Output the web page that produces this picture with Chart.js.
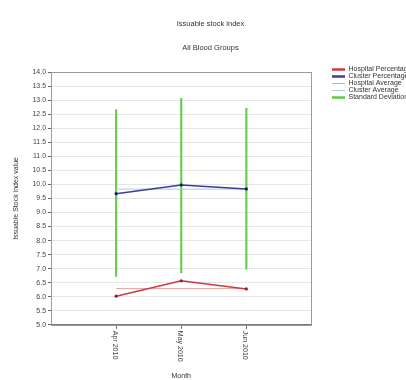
<!DOCTYPE html>
<html>
<head>
<meta charset="utf-8">
<script src="https://cdn.jsdelivr.net/npm/chart.js@4"></script>
<style>
  body { margin: 0; background: #fff; }
  #wrap { width: 406px; height: 380px; }
</style>
</head>
<body>
<div id="wrap"><canvas id="grafico" width="406" height="380"></canvas></div>
<script>
// dados
const months = ['Apr 2010', 'May 2010', 'Jun 2010'];
const hospitalPct = [6.02, 6.57, 6.28];
const clusterPct = [9.67, 9.98, 9.84];
const hospitalAvg = [6.29, 6.29, 6.29];
const clusterAvg = [9.83, 9.83, 9.83];
const stdLow = [6.72, 6.86, 6.98];
const stdHigh = [12.65, 13.06, 12.71];
const yTicks = [5, 5.5, 6, 6.5, 7, 7.5, 8, 8.5, 9, 9.5, 10, 10.5, 11, 11.5, 12, 12.5, 13, 13.5, 14];

Chart.defaults.font.family = "'Liberation Sans', Arial, sans-serif";
Chart.defaults.color = '#333';

function pts(arr){
    return arr.map((v, i) => ({x: i + 1, y: v}));
}

// caixa em volta da area do grafico + rotulos do eixo x girados
const extras = {
    id: 'extras',
    afterLayout(chart){
        const lg = chart.legend;
        lg.left = 332;
        lg.right = 440;
        lg.top = chart.chartArea.top - 6;
        lg.bottom = chart.height;
        const sub = chart.boxes.find(b => b.options && b.options.text === 'All Blood Groups');
        [chart.titleBlock, sub].forEach(b => { if (b) { b.left += 10; b.right += 10; } });
    },
    beforeDatasetsDraw(chart){
        const a = chart.chartArea;
        const ctx = chart.ctx;
        ctx.save();
        ctx.strokeStyle = '#9a9a9a';
        ctx.lineWidth = 1;
        ctx.strokeRect(Math.round(a.left) + 0.5, Math.round(a.top) + 0.5, Math.round(a.right - a.left), Math.round(a.bottom - a.top));
        ctx.restore();
    },
    afterDraw(chart){
        const sx = chart.scales.x;
        const ctx = chart.ctx;
        ctx.save();
        ctx.fillStyle = '#444';
        ctx.font = "7px 'Liberation Sans', Arial, sans-serif";
        ctx.textAlign = 'left';
        ctx.textBaseline = 'middle';
        sx.ticks.forEach(t => {
            ctx.save();
            ctx.translate(sx.getPixelForValue(t.value) - 1, sx.top + 6);
            ctx.rotate(Math.PI / 2);
            ctx.fillText(months[t.value - 1], 0, 0);
            ctx.restore();
        });
        ctx.restore();
    }
};

const ctx = document.getElementById('grafico').getContext('2d');

new Chart(ctx, {
    type: 'line',
    data: {
        datasets: [{
            label: 'Hospital Percentage',
            data: pts(hospitalPct),
            borderColor: '#cc3a42',
            backgroundColor: '#9a1c28',
            borderWidth: 1.5,
            pointRadius: 1.6,
            pointBorderWidth: 0,
            order: 1
        }, {
            label: 'Cluster Percentage',
            data: pts(clusterPct),
            borderColor: '#3c3c9c',
            backgroundColor: '#1c1c60',
            borderWidth: 1.5,
            pointRadius: 1.6,
            pointBorderWidth: 0,
            order: 1
        }, {
            label: 'Hospital Average',
            data: pts(hospitalAvg),
            borderColor: '#e2a4a8',
            borderWidth: 1,
            pointRadius: 0,
            order: 2
        }, {
            label: 'Cluster Average',
            data: pts(clusterAvg),
            borderColor: '#a8cdea',
            borderWidth: 1,
            pointRadius: 0,
            order: 2
        }, {
            type: 'bar',
            label: 'Standard Deviation',
            data: stdLow.map((v, i) => ({x: i + 1, y: [v, stdHigh[i]]})),
            backgroundColor: '#66cc4c',
            borderColor: '#5fcb45',
            borderWidth: 0,
            barThickness: 1.5,
            order: 3
        }]
    },
    options: {
        responsive: false,
        animation: false,
        layout: {
            padding: {left: 0, right: 5, top: 0, bottom: 0}
        },
        plugins: {
            title: {
                display: true,
                text: 'Issuable stock index',
                font: {size: 7.5, weight: 'normal'},
                color: '#333',
                padding: {top: 19, bottom: 0}
            },
            subtitle: {
                display: true,
                text: 'All Blood Groups',
                font: {size: 7.5, weight: 'normal'},
                color: '#333',
                padding: {top: 15, bottom: 20}
            },
            legend: {
                position: 'right',
                align: 'start',
                labels: {
                    usePointStyle: true,
                    pointStyleWidth: 13,
                    boxHeight: 6,
                    padding: 0,
                    font: {size: 7},
                    color: '#333',
                    generateLabels(chart){
                        const items = Chart.defaults.plugins.legend.labels.generateLabels(chart);
                        return items.map(it => {
                            it.pointStyle = 'line';
                            it.lineWidth = (it.datasetIndex === 2 || it.datasetIndex === 3) ? 1 : 2.5;
                            return it;
                        });
                    }
                }
            },
            tooltip: {enabled: false}
        },
        scales: {
            x: {
                type: 'linear',
                min: 0,
                max: 4,
                offset: false,
                afterBuildTicks(scale){
                    scale.ticks = months.map((m, i) => ({value: i + 1}));
                },
                ticks: {
                    color: 'rgba(0,0,0,0)',
                    font: {size: 7},
                    minRotation: 90,
                    maxRotation: 90,
                    padding: 2,
                    callback: (v) => months[v - 1]
                },
                grid: {
                    drawOnChartArea: false,
                    drawTicks: true,
                    tickLength: 4,
                    tickColor: '#666',
                    offset: false
                },
                border: {color: '#777'},
                title: {
                    display: true,
                    text: 'Month',
                    font: {size: 7},
                    color: '#333',
                    padding: {top: 8, bottom: 0}
                }
            },
            y: {
                min: 5,
                max: 14,
                afterBuildTicks(scale){
                    scale.ticks = yTicks.map(v => ({value: v}));
                },
                ticks: {
                    font: {size: 7},
                    color: '#444',
                    padding: 2,
                    callback: (v) => v.toFixed(1)
                },
                grid: {
                    color: '#e6e6e6',
                    tickColor: '#666',
                    tickLength: 3
                },
                border: {color: '#666'},
                title: {
                    display: true,
                    text: 'Issuable Stock index value',
                    font: {size: 7},
                    color: '#333',
                    padding: {top: 12, bottom: 10}
                }
            }
        }
    },
    plugins: [extras]
});
</script>
</body>
</html>
